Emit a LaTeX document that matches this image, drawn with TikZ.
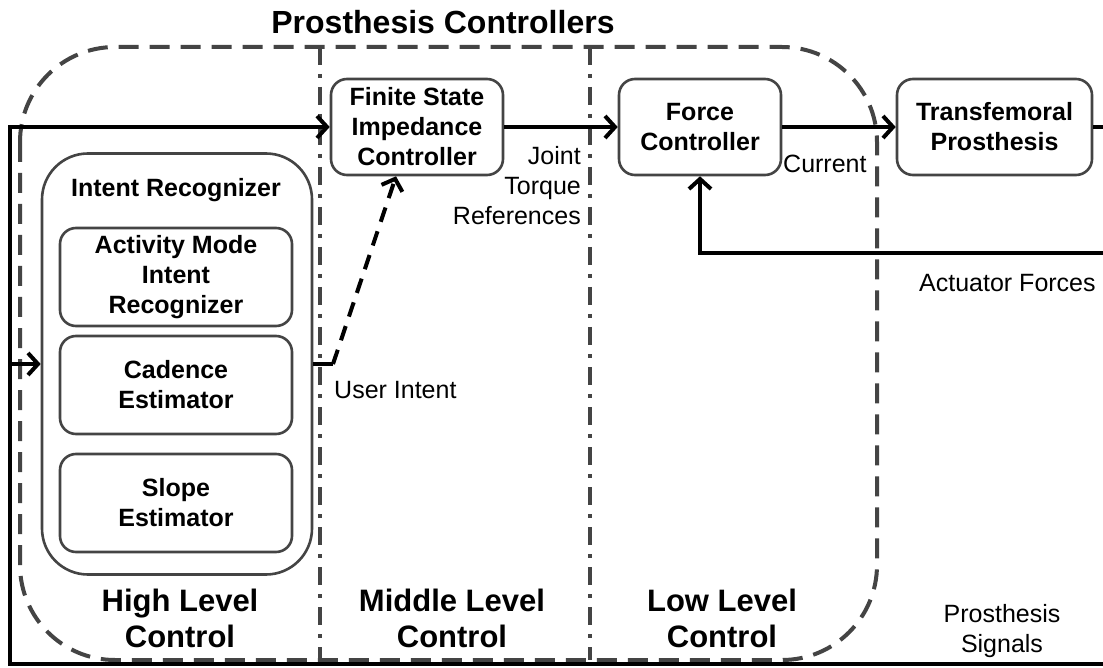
\documentclass[tikz,border=0pt]{standalone}
\usepackage{fontspec}
\setmainfont{Liberation Sans}
\usetikzlibrary{arrows.meta,calc}
\definecolor{boxgray}{RGB}{68,68,68}
\begin{document}
\begin{tikzpicture}[x=1pt,y=-1pt,
  box/.style={draw=boxgray, line width=2.6pt, rounded corners=16pt, align=center, inner sep=0pt,
    font=\bfseries\fontsize{25}{30}\selectfont},
  bigbox/.style={draw=boxgray, line width=2.6pt, rounded corners=46pt, inner sep=0pt},
  conn/.style={line width=4pt, -{Straight Barb[length=10pt,width=22pt]}},
  wire/.style={line width=4pt},
  intentarrow/.style={line width=4pt, dash pattern=on 15pt off 10pt, -{Straight Barb[length=10pt,width=22pt]}},
  outer/.style={draw=boxgray, line width=4pt, dash pattern=on 20pt off 11pt, rounded corners=95pt},
  divider/.style={draw=boxgray, line width=4pt, dash pattern=on 18pt off 9pt on 4pt off 9pt},
  lbl/.style={inner sep=0pt, font=\fontsize{25}{30}\selectfont},
  lvl/.style={inner sep=0pt, align=center, font=\bfseries\fontsize{31}{36}\selectfont},
  ttl/.style={inner sep=0pt, font=\bfseries\fontsize{32}{36}\selectfont}
]
\useasboundingbox (0,0) rectangle (1103,668);
\fill[white] (0,0) rectangle (1103,668);

% outer dashed boundary and dividers
\draw[outer] (20,47) rectangle (877,660);
\draw[divider] (320,47) -- (320,660);
\draw[divider] (590,47) -- (590,660);

\node[ttl] (title) at (443,22) {Prosthesis Controllers};

% Intent recognizer
\node[bigbox, minimum width=270pt, minimum height=421pt] (hir) at (177,364) {};
\node[inner sep=0pt, font=\bfseries\fontsize{25}{30}\selectfont] (hirt) at (176,190) {Intent Recognizer};
\node[box, minimum width=232pt, minimum height=98pt] (am) at (176,277) {Activity Mode\\Intent\\Recognizer};
\node[box, minimum width=232pt, minimum height=98pt] (cad) at (176,385) {Cadence\\Estimator};
\node[box, minimum width=232pt, minimum height=98pt] (slp) at (176,503) {Slope\\Estimator};

% controllers
\node[box, minimum width=172pt, minimum height=96pt] (fsi) at (417,127) {Finite State\\Impedance\\Controller};
\node[box, minimum width=162pt, minimum height=96pt] (force) at (700,127) {Force\\Controller};
\node[box, minimum width=195pt, minimum height=96pt] (tfp) at (994.5,127) {Transfemoral\\Prosthesis};

% free ends
\coordinate (ro) at (1103,127);
\coordinate (ra) at (1103,253);
\coordinate (rb) at (1103,664);
\coordinate (lb) at (10,664);
\coordinate (lt) at (10,127);
\coordinate (lm) at (10,364);
\coordinate (ui) at (333,364);

% connectors
\draw[conn] (fsi.east) -- (force.west);
\draw[conn] (force.east) -- (tfp.west);
\draw[wire] (tfp.east) -- (ro);
\draw[conn] (ra) -- (ra -| force.south) -- (force.south);
\draw[conn, line join=miter] (rb) -- (lb) -- (lt) -- (fsi.west);
\draw[conn] (lm) -- (hir.west);
\draw[wire] (hir.east) -- (ui);
\draw[intentarrow] (ui) -- ($(fsi.south)+(-21,0)$);

% labels
\node[lbl, align=right, anchor=east] (jtr) at (581,186) {Joint\\Torque\\References};
\node[lbl, anchor=west] (cur) at (783,164) {Current};
\node[lbl, anchor=west] (uil) at (334,390) {User Intent};
\node[lbl, anchor=west] (afl) at (919,283) {Actuator Forces};
\node[lbl, align=center] (psl) at (1002,631) {Prosthesis\\Signals};

\node[lvl] (hl) at (180,618) {High Level\\Control};
\node[lvl] (ml) at (452,618) {Middle Level\\Control};
\node[lvl] (ll) at (722,618) {Low Level\\Control};
\end{tikzpicture}
\end{document}
